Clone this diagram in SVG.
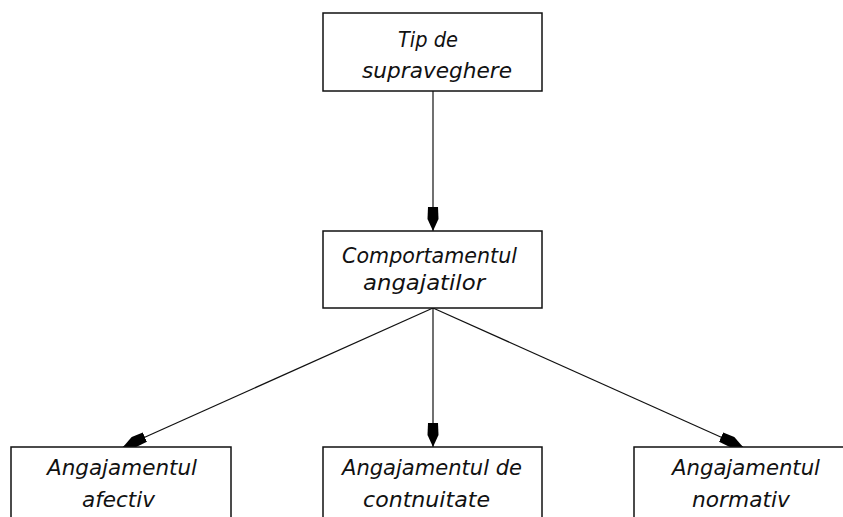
<svg xmlns="http://www.w3.org/2000/svg" width="843" height="517" viewBox="0 0 843 517">
<style>
.box{fill:#fff;stroke:#111;stroke-width:1.5}
.t{font-family:"DejaVu Sans","Liberation Sans",sans-serif;font-style:italic;font-size:22px;fill:#111;font-weight:200}
.c{stroke:#111;stroke-width:1.2;fill:none}
</style>
<defs>
<marker id="ah" markerWidth="24" markerHeight="12" refX="24" refY="6" orient="auto" markerUnits="userSpaceOnUse">
<path d="M0,1 L12,0.5 L24,6 L12,11.5 L0,11 Z" fill="#000"/>
</marker>
</defs>
<rect width="843" height="517" fill="#fff"/>
<g id="connectors">
<line class="c" x1="433" y1="91" x2="433" y2="231" marker-end="url(#ah)"/>
<line class="c" x1="433" y1="308" x2="123" y2="447" marker-end="url(#ah)"/>
<line class="c" x1="433" y1="308" x2="433" y2="447" marker-end="url(#ah)"/>
<line class="c" x1="433" y1="308" x2="743" y2="447" marker-end="url(#ah)"/>
</g>
<g id="n1">
<rect class="box" x="323" y="13" width="219" height="78"/>
<text class="t" x="398" y="47" textLength="60" lengthAdjust="spacingAndGlyphs">Tip de</text>
<text class="t" x="362" y="78" textLength="150" lengthAdjust="spacingAndGlyphs">supraveghere</text>
</g>
<g id="n2">
<rect class="box" x="323" y="231" width="219" height="77"/>
<text class="t" x="342" y="263" textLength="175" lengthAdjust="spacingAndGlyphs">Comportamentul</text>
<text class="t" x="363" y="290" textLength="122" lengthAdjust="spacingAndGlyphs">angajatilor</text>
</g>
<g id="n3">
<rect class="box" x="11" y="447" width="220" height="80"/>
<text class="t" x="47" y="475" textLength="150" lengthAdjust="spacingAndGlyphs">Angajamentul</text>
<text class="t" x="82" y="507" textLength="73" lengthAdjust="spacingAndGlyphs">afectiv</text>
</g>
<g id="n4">
<rect class="box" x="323" y="447" width="219" height="80"/>
<text class="t" x="342" y="475" textLength="180" lengthAdjust="spacingAndGlyphs">Angajamentul de</text>
<text class="t" x="363" y="507" textLength="127" lengthAdjust="spacingAndGlyphs">contnuitate</text>
</g>
<g id="n5">
<rect class="box" x="634" y="447" width="220" height="80"/>
<text class="t" x="672" y="475" textLength="148" lengthAdjust="spacingAndGlyphs">Angajamentul</text>
<text class="t" x="692" y="507" textLength="98" lengthAdjust="spacingAndGlyphs">normativ</text>
</g>
</svg>
